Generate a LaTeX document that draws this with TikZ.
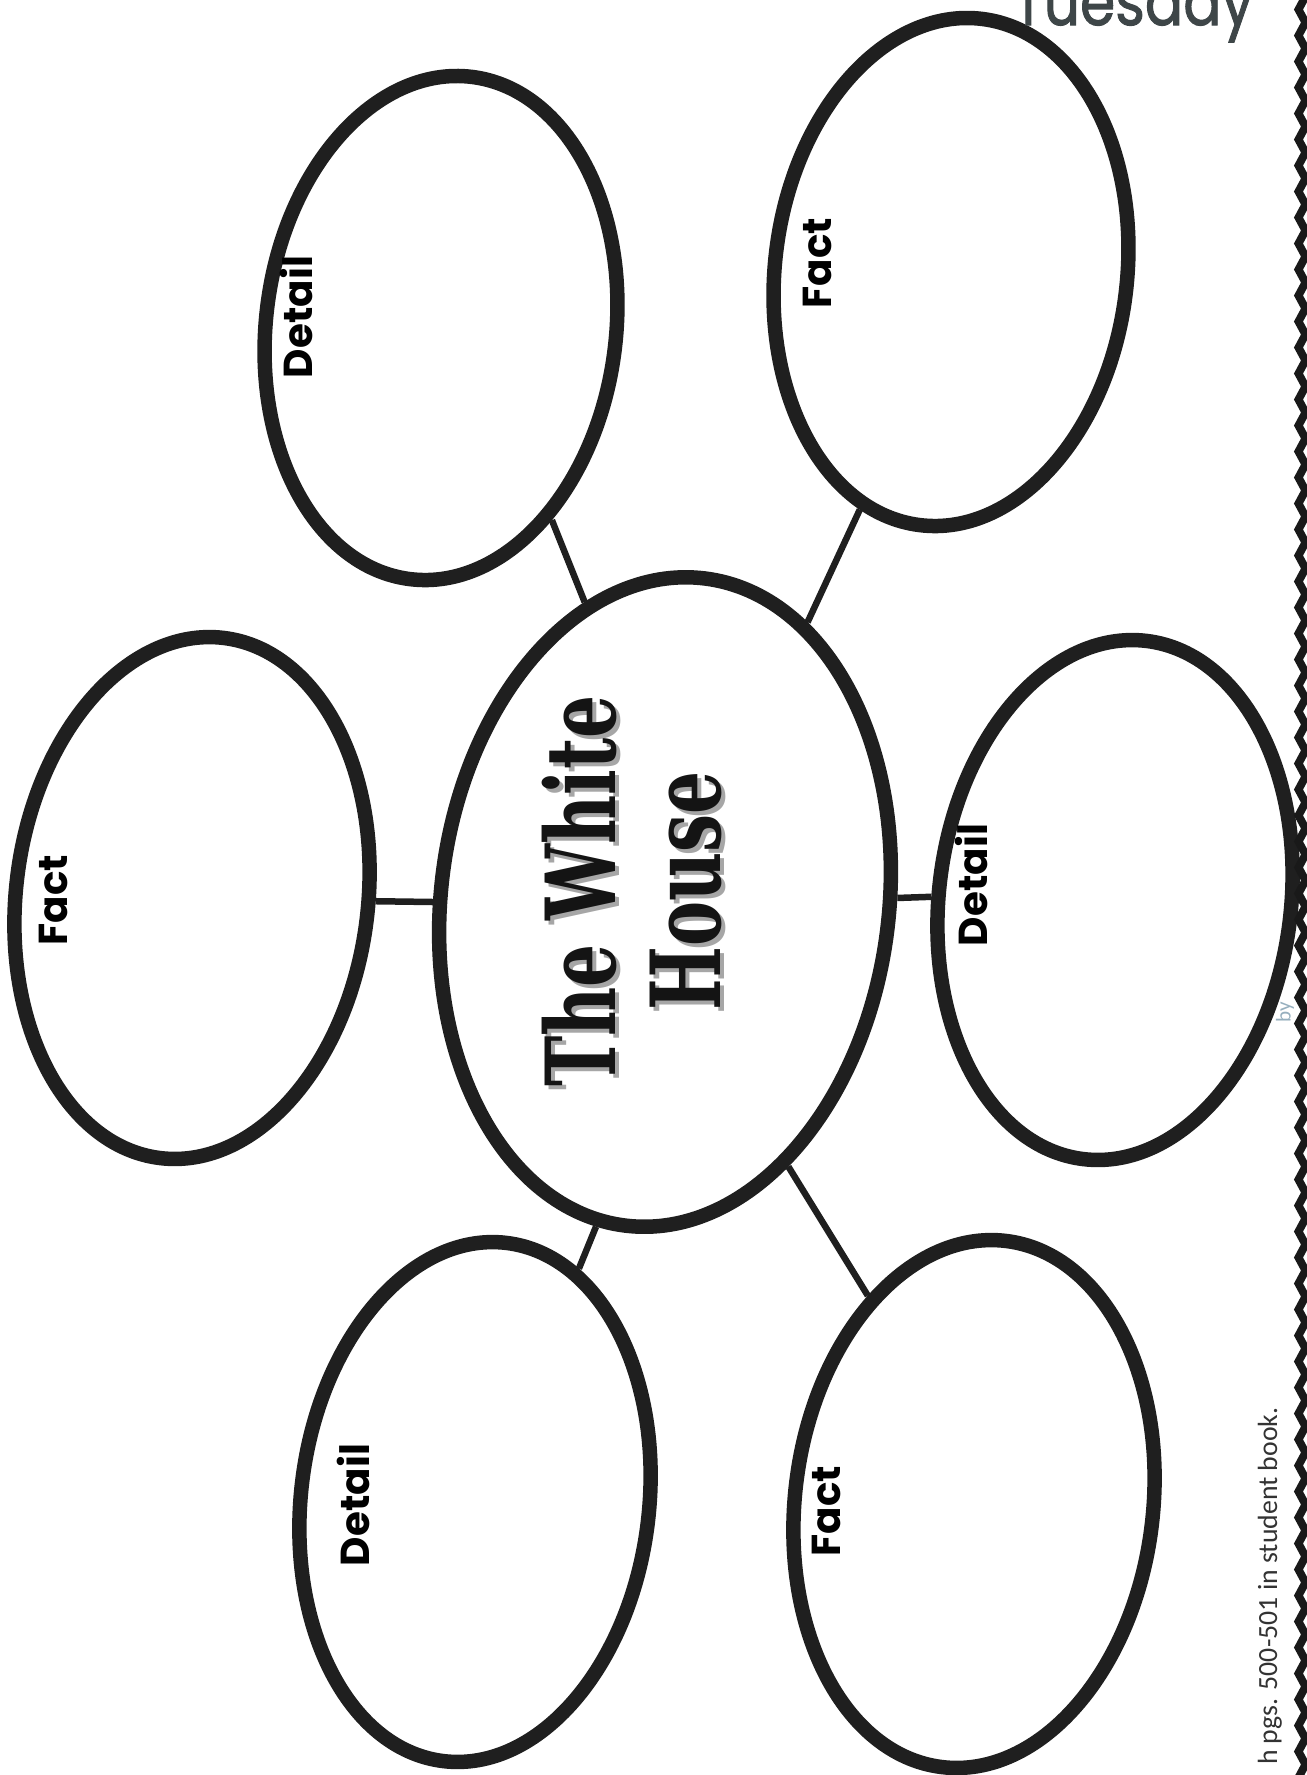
\documentclass[tikz,border=0pt]{standalone}
\usepackage{fontspec}
\newfontfamily\handfont{Poppins}
\newfontfamily\markerfont[FakeBold=1.6]{Poppins}
\newfontfamily\slabfont{DejaVu Serif}
\newfontfamily\bookfont{Carlito}
\usetikzlibrary{shapes.geometric,decorations.pathmorphing}
\definecolor{pencil}{RGB}{62,70,72}
\definecolor{faint}{RGB}{150,175,190}

\begin{document}
\begin{tikzpicture}[x=0.1mm,y=-0.1mm,
  bubble/.style={draw=black!88,ellipse,line width=1.45mm,inner sep=0pt,rotate=-7},
  tag/.style={rotate=90,font=\handfont\bfseries\fontsize{11.5}{13}\selectfont},
  spoke/.style={draw=black!88,line width=0.65mm},
  titlefont/.style={font=\slabfont\bfseries\fontsize{27.5}{30}\selectfont}]
  \useasboundingbox (0,0) rectangle (1307,1775);
  \clip (0,0) rectangle (1307,1775);
  % centre bubble
  \node[bubble,minimum width=44.8mm,minimum height=65.2mm] (house) at (665,902) {};
  % outer bubbles, top row / middle row / bottom row
  \node[bubble,minimum width=35mm,minimum height=50.6mm] (detA) at (441,328) {};
  \node[bubble,minimum width=35.2mm,minimum height=51mm] (factA) at (951,272) {};
  \node[bubble,minimum width=35.2mm,minimum height=52.4mm] (factB) at (192,898) {};
  \node[bubble,minimum width=35.2mm,minimum height=52.2mm] (detB) at (1115,900) {};
  \node[bubble,minimum width=34.8mm,minimum height=52.2mm] (detC) at (475,1502) {};
  \node[bubble,minimum width=35.8mm,minimum height=53mm] (factC) at (974,1504) {};
  % spokes
  \draw[spoke] (house.112) -- (detA.-53);
  \draw[spoke] (house.70) -- (factA.-104);
  \draw[spoke] (house.187) -- (factB.6);
  \draw[spoke] (house.8) -- (detB.186);
  \draw[spoke] (house.-95) -- (detC.73);
  \draw[spoke] (house.-58) -- (factC.124);
  % title with its grey shadow
  \node[rotate=90,align=center,text=black!35,titlefont]
    at (636,895) {\scalebox{0.7}[1]{The White}\\\scalebox{0.7}[1]{House}};
  \node[rotate=90,align=center,text=black!92,titlefont]
    (title) at (632,891) {\scalebox{0.7}[1]{The White}\\\scalebox{0.7}[1]{House}};
  % labels
  \node[tag] (tagA) at (296,317) {Detail};
  \node[tag] (tagB) at (817,263) {Fact};
  \node[tag] (tagC) at (53,900) {Fact};
  \node[tag] (tagD) at (971,885) {Detail};
  \node[tag] (tagE) at (353,1505) {Detail};
  \node[tag] (tagF) at (826,1511) {Fact};
  % page edge
  \node[anchor=base east,text=pencil,font=\markerfont\fontsize{19}{21}\selectfont]
    (day) at (1266,25) {\scalebox{0.85}[1]{Tuesday}};
  \draw[black!90,line width=0.8mm,decorate,decoration={zigzag,amplitude=0.35mm,segment length=2.6mm}]
    (1302,-10) -- (1302,1790);
  \node[rotate=90,anchor=base east,text=black!80,font=\bookfont\fontsize{7.9}{9}\selectfont]
    (note) at (1277,1395) {h pgs. 500-501 in student book.};
  \node[rotate=90,text=faint,font=\bookfont\fontsize{6}{7}\selectfont] (by) at (1285,1012) {by};
\end{tikzpicture}
\end{document}
